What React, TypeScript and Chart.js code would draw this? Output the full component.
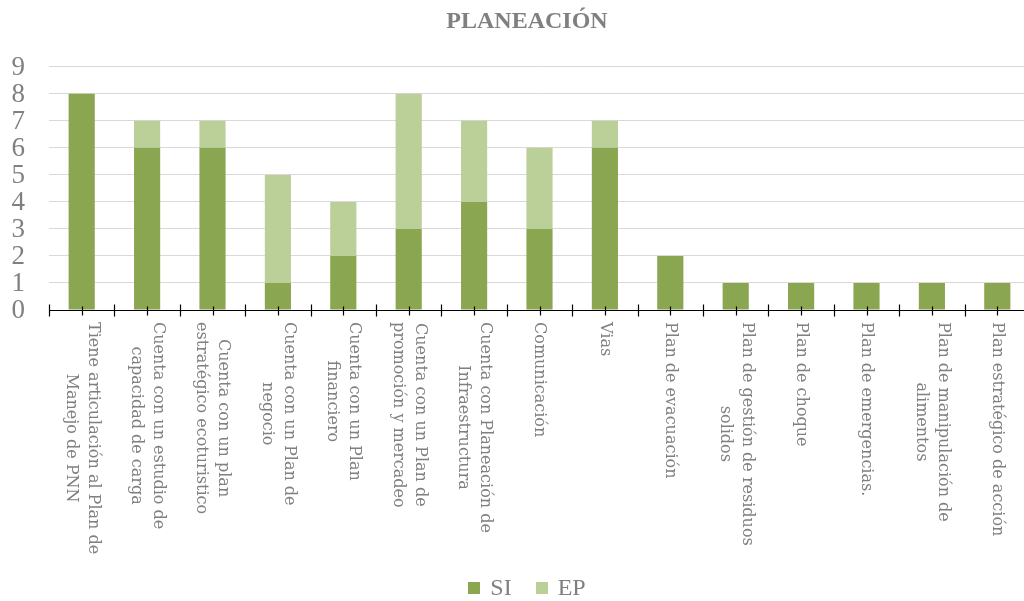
import React, { useEffect, useRef } from "react";
import { Chart, registerables } from "chart.js";

Chart.register(...registerables);

const categories: string[][] = [
  ["Tiene articulación al Plan de", "Manejo de PNN"],
  ["Cuenta con un estudio de", "capacidad de carga"],
  ["Cuenta con un plan", "estratégico ecoturistico"],
  ["Cuenta con un Plan de", "negocio"],
  ["Cuenta con un Plan", "financiero"],
  ["Cuenta con un Plan de", "promoción y mercadeo"],
  ["Cuenta con Planeación de", "Infraestructura"],
  ["Comunicación"],
  ["Vias"],
  ["Plan de evacuación"],
  ["Plan de gestión de residuos", "solidos"],
  ["Plan de choque"],
  ["Plan de emergencias."],
  ["Plan de manipulación de", "alimentos"],
  ["Plan estratégico de acción"],
];

const siValues = [8, 6, 6, 1, 2, 3, 4, 3, 6, 2, 1, 1, 1, 1, 1];
const epValues = [0, 1, 1, 4, 2, 5, 3, 3, 1, 0, 0, 0, 0, 0, 0];
const seriesNames = ["SI", "EP"];
const seriesColors = ["#8BA650", "#BBCF98"];
const yMin = 0;
const yMax = 9;
const yStep = 1;
const chartTitle = "PLANEACIÓN";

const TEXT_GRAY = "#808080";
const CANVAS_W = 1054;
const CANVAS_H = 601;
const PAD_L = 24;
const PAD_R = 24;

const customPlugin = {
  id: "customAxisLegend",
  afterDraw(chart: any) {
    const ctx: CanvasRenderingContext2D = chart.ctx;
    const xs = chart.scales.x;
    const ys = chart.scales.y;
    const area = chart.chartArea;
    const labels = chart.data.labels as (string | string[])[];
    const n = labels.length;
    const cw = (area.right - area.left) / n;
    const y0 = Math.round(area.bottom) + 0.5;
    ctx.save();

    // y tick labels
    ctx.font = "27px 'Liberation Serif'";
    ctx.fillStyle = TEXT_GRAY;
    ctx.textAlign = "right";
    ctx.textBaseline = "middle";
    ys.ticks.forEach((t: any) => {
      ctx.fillText(String(t.value), area.left - 24, ys.getPixelForValue(t.value) + 1);
    });

    // axis line and ticks
    ctx.strokeStyle = "#000000";
    ctx.lineWidth = 1.2;
    ctx.beginPath();
    ctx.moveTo(area.left, y0);
    ctx.lineTo(area.right, y0);
    for (let k = 0; k <= n; k++) {
      const bx = Math.round(area.left + k * cw) + 0.5;
      ctx.moveTo(bx, y0 - 6);
      ctx.lineTo(bx, y0 + 6);
    }
    for (let i = 0; i < n; i++) {
      const cx = Math.round(xs.getPixelForValue(i)) + 0.5;
      ctx.moveTo(cx, y0 - 4);
      ctx.lineTo(cx, y0 + 5);
    }
    ctx.stroke();

    // rotated category labels
    ctx.font = "16px 'DejaVu Serif'";
    ctx.fillStyle = TEXT_GRAY;
    ctx.textBaseline = "middle";
    ctx.textAlign = "left";
    const lh = 22;
    for (let i = 0; i < n; i++) {
      const raw = labels[i];
      const lines = Array.isArray(raw) ? raw : [raw];
      const widths = lines.map((l) => ctx.measureText(l).width);
      const maxW = Math.max(...widths);
      const cx = xs.getPixelForValue(i);
      ctx.save();
      ctx.translate(cx, area.bottom + 12);
      ctx.rotate(Math.PI / 2);
      lines.forEach((l, j) => {
        const x = (maxW - widths[j]) / 2;
        const y = (j - (lines.length - 1) / 2) * lh;
        ctx.fillText(l, x, y);
      });
      ctx.restore();
    }

    // legend
    ctx.font = "24px 'Liberation Serif'";
    const box = 12;
    const gap = 10;
    const itemGap = 24;
    const items = chart.data.datasets.map((d: any) => ({
      text: d.label,
      color: d.backgroundColor,
      w: ctx.measureText(d.label).width,
    }));
    const total =
      items.reduce((s: number, it: any) => s + box + gap + it.w, 0) +
      itemGap * (items.length - 1);
    const center = (PAD_L + area.right) / 2;
    let x = center - total / 2;
    const ly = 588;
    items.forEach((it: any) => {
      ctx.fillStyle = it.color;
      ctx.fillRect(Math.round(x), ly - box / 2, box, box);
      x += box + gap;
      ctx.fillStyle = TEXT_GRAY;
      ctx.fillText(it.text, x, ly + 1);
      x += it.w + itemGap;
    });
    ctx.restore();
  },
};

export default function App() {
  const canvasRef = useRef<HTMLCanvasElement | null>(null);

  useEffect(() => {
    if (!canvasRef.current) return;
    const chart = new Chart(canvasRef.current, {
      type: "bar",
      data: {
        labels: categories,
        datasets: [
          {
            label: seriesNames[0],
            data: siValues,
            backgroundColor: seriesColors[0],
            borderWidth: 0,
            barPercentage: 0.4,
            categoryPercentage: 1.0,
          },
          {
            label: seriesNames[1],
            data: epValues,
            backgroundColor: seriesColors[1],
            borderWidth: 0,
            barPercentage: 0.4,
            categoryPercentage: 1.0,
          },
        ],
      },
      options: {
        responsive: false,
        animation: false,
        devicePixelRatio: 1,
        layout: { padding: { left: PAD_L, right: PAD_R, top: 0, bottom: 0 } },
        plugins: {
          legend: { display: false },
          tooltip: { enabled: false },
          title: {
            display: true,
            text: chartTitle,
            color: TEXT_GRAY,
            font: { family: "'Liberation Serif'", size: 24, weight: "bold", lineHeight: 1.2 },
            padding: { top: 7, bottom: 31 },
          },
        },
        scales: {
          x: {
            stacked: true,
            offset: true,
            grid: { display: false },
            border: { display: false },
            ticks: { display: false },
            afterFit: (scale: any) => {
              scale.height = 291;
            },
          },
          y: {
            stacked: true,
            min: yMin,
            max: yMax,
            ticks: {
              display: false,
              autoSkip: false,
              stepSize: yStep,
            },
            grid: { color: "#D9D9D9", lineWidth: 1, drawTicks: false },
            border: { display: false },
            afterFit: (scale: any) => {
              scale.width = 25;
            },
          },
        },
      },
      plugins: [customPlugin],
    } as any);
    return () => chart.destroy();
  }, []);

  return (
    <div
      style={{
        position: "fixed",
        left: 0,
        top: 0,
        width: 1024,
        height: 601,
        overflow: "hidden",
        background: "#ffffff",
      }}
    >
      <canvas
        ref={canvasRef}
        width={CANVAS_W}
        height={CANVAS_H}
        style={{ width: CANVAS_W, height: CANVAS_H, display: "block" }}
      />
    </div>
  );
}
